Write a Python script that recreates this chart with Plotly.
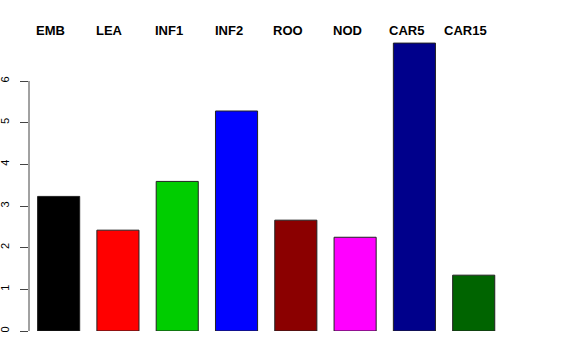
import plotly.graph_objects as go

categories = ["EMB", "LEA", "INF1", "INF2", "ROO", "NOD", "CAR5", "CAR15"]
values = [3.23, 2.42, 3.59, 5.28, 2.66, 2.25, 6.91, 1.34]
colors = ["#000000", "#FF0000", "#00CD00", "#0000FF", "#8B0000", "#FF00FF", "#00008B", "#006400"]
y_ticks = [0, 1, 2, 3, 4, 5, 6]

fig = go.Figure()
fig.add_trace(go.Bar(
    x=categories, y=values,
    marker=dict(color=colors, line=dict(color="#222222", width=1)),
    showlegend=False,
))

annotations = [
    dict(x=c, y=1.0, xref="x", yref="paper", text="<b>%s</b>" % c,
         showarrow=False, xanchor="center", yanchor="middle", yshift=1, xshift=-8,
         font=dict(family="Liberation Sans, Arial, sans-serif", size=13, color="black"))
    for c in categories
]

fig.update_layout(
    width=576, height=360,
    margin=dict(l=29, r=43, t=31, b=29),
    paper_bgcolor="white", plot_bgcolor="white",
    bargap=0.29,
    annotations=annotations,
    shapes=[dict(type="line", xref="paper", yref="y", x0=0, x1=0, y0=0, y1=6,
                 line=dict(color="#444444", width=1))],
    xaxis=dict(range=[-0.5, 8.0], showticklabels=False, showline=False,
               showgrid=False, zeroline=False, ticks="", automargin=False),
    yaxis=dict(range=[0, 7.2], tickvals=y_ticks, ticktext=[str(v) for v in y_ticks],
               ticks="outside", ticklen=8, tickcolor="#444444", tickwidth=1,
               tickangle=-90, showline=False, showgrid=False, zeroline=False,
               ticklabelstandoff=7, automargin=False,
               tickfont=dict(family="Liberation Sans, Arial, sans-serif", size=11, color="black")),
)

fig.write_html("out.html", config={"displayModeBar": False},
               post_script="document.body.style.margin='0';")
